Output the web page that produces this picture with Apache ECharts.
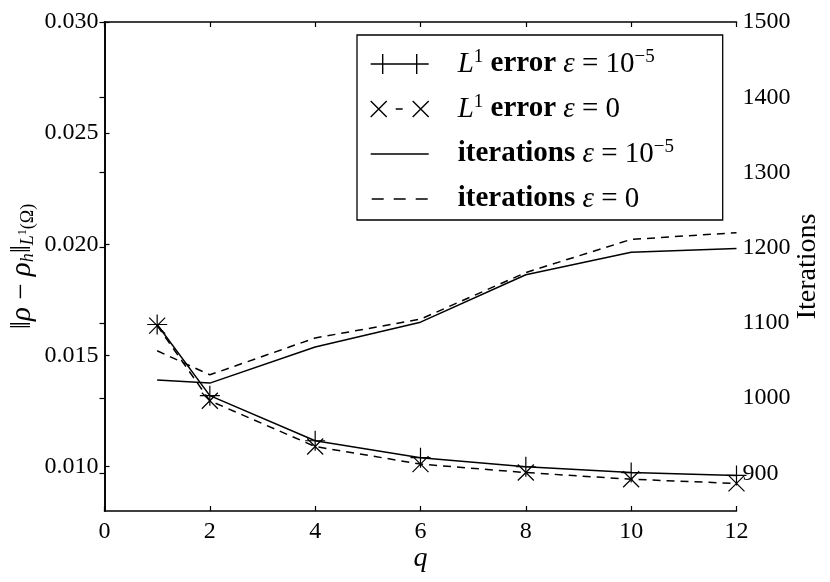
<!DOCTYPE html>
<html>
<head>
<meta charset="utf-8">
<title>L1 error and iterations vs q</title>
<script src="https://cdn.jsdelivr.net/npm/echarts@6/dist/echarts.min.js"></script>
<style>
  html, body { margin: 0; padding: 0; background: #fff; }
  #chart { width: 830px; height: 582px; }
</style>
</head>
<body>
<div id="chart"></div>
<script>
// values
const qValues = [1, 2, 4, 6, 8, 10, 12];
const errEps5 = [0.01639, 0.01319, 0.01116, 0.01040, 0.00999, 0.00973, 0.00960];
const errEps0 = [0.01634, 0.01296, 0.01090, 0.01011, 0.00973, 0.00943, 0.00924];
const itersEps5 = [1024, 1020, 1068, 1101, 1164, 1194, 1199];
const itersEps0 = [1063, 1031, 1080, 1105, 1167, 1211, 1220];

const errTicks = [0.010, 0.015, 0.020, 0.025, 0.030];
const iterTicks = [900, 1000, 1100, 1200, 1300, 1400, 1500];
const seriesNames = ['errEps5', 'errEps0', 'itersEps5', 'itersEps0'];

const serif = 'Liberation Serif';

// legend handles (line + markers), extra moveTo points keep the box 82x22
const plusIcon = 'path://M0,0M82,22M0,11H58M12,1V21M46,1V21';
const crossIcon = 'path://M0,0M82,22M0,3L16,19M0,19L16,3M42,3L58,19M42,19L58,3M25,11H32';
const solidIcon = 'path://M0,0M82,22M0,11H58';
const dashIcon = 'path://M0,0M82,22M1,11H13M23,11H35M45,11H57';

const legendLabels = {
  errEps5: '{it|L}{sup|1} {b|error} {it|ε} = 10{sup|−5}',
  errEps0: '{it|L}{sup|1} {b|error} {it|ε} = 0',
  itersEps5: '{b|iterations} {it|ε} = 10{sup|−5}',
  itersEps0: '{b|iterations} {it|ε} = 0'
};

const pairs = (ys) => qValues.map((q, i) => [q, ys[i]]);

const chart = echarts.init(document.getElementById('chart'));

const axisLine = { show: true, lineStyle: { color: '#000', width: 1.6 } };
const tickStyle = { show: true, inside: true, length: 5, lineStyle: { color: '#000', width: 1.2 } };
const labelStyle = { color: '#000', fontFamily: serif, fontSize: 24 };

chart.setOption({
  animation: false,
  backgroundColor: '#fff',
  grid: { left: 104.5, right: 93.5, top: 22, bottom: 71, containLabel: false, outerBoundsMode: 'none' },
  xAxis: [
    {
      type: 'value', position: 'bottom', min: 0, max: 12, interval: 2,
      axisLine: axisLine,
      axisTick: tickStyle,
      axisLabel: Object.assign({ margin: 9 }, labelStyle),
      splitLine: { show: false },
      name: 'q', nameLocation: 'middle', nameGap: 34, nameMoveOverlap: false,
      nameTextStyle: { color: '#000', fontFamily: serif, fontStyle: 'italic', fontSize: 28 }
    },
    {
      type: 'value', position: 'top', min: 0, max: 12, interval: 2,
      axisLine: axisLine,
      axisTick: tickStyle,
      axisLabel: { show: false },
      splitLine: { show: false }
    }
  ],
  yAxis: [
    {
      type: 'value', position: 'left', min: 0.008, max: 0.030,
      axisLine: axisLine,
      axisTick: Object.assign({ customValues: errTicks }, tickStyle),
      axisLabel: Object.assign({ margin: 6, customValues: errTicks, formatter: (v) => v.toFixed(3) }, labelStyle),
      splitLine: { show: false },
      name: '‖{it|ρ} − {it|ρ}{subi|h}‖{subi|L}{ss|1}{sub|(Ω)}',
      nameLocation: 'middle', nameRotate: 90, nameGap: 67, nameMoveOverlap: false,
      nameTextStyle: {
        color: '#000', fontFamily: serif, fontSize: 29, lineHeight: 30,
        rich: {
          it: { fontFamily: serif, fontStyle: 'italic', fontSize: 29, lineHeight: 30 },
          sub: { fontFamily: serif, fontSize: 18, verticalAlign: 'bottom', lineHeight: 18 },
          subi: { fontFamily: serif, fontStyle: 'italic', fontSize: 18, verticalAlign: 'bottom', lineHeight: 18 },
          ss: { fontFamily: serif, fontSize: 12, verticalAlign: 'middle', lineHeight: 12 }
        }
      }
    },
    {
      type: 'value', position: 'right', min: 850, max: 1500,
      axisLine: axisLine,
      axisTick: Object.assign({ customValues: iterTicks }, tickStyle),
      axisLabel: Object.assign({ margin: 6, customValues: iterTicks, formatter: (v) => String(v) }, labelStyle),
      splitLine: { show: false },
      name: 'Iterations',
      nameLocation: 'middle', nameRotate: 90, nameGap: 57, nameMoveOverlap: false,
      nameTextStyle: { color: '#000', fontFamily: serif, fontSize: 28 }
    }
  ],
  legend: {
    orient: 'vertical', left: 357, top: 35,
    itemWidth: 82, itemHeight: 22, itemGap: 13,
    padding: [13, 15, 5, 13],
    borderColor: '#000', borderWidth: 1.3, backgroundColor: '#fff',
    selectedMode: false,
    itemStyle: { color: 'rgba(0,0,0,0)', borderColor: '#000', borderWidth: 1.4 },
    formatter: (name) => legendLabels[name],
    textStyle: {
      color: '#000', fontFamily: serif, fontSize: 29, lineHeight: 32, width: 250,
      rich: {
        it: { fontFamily: serif, fontStyle: 'italic', fontSize: 29, lineHeight: 32 },
        b: { fontFamily: serif, fontWeight: 'bold', fontSize: 29, lineHeight: 32 },
        sup: { fontFamily: serif, fontSize: 19, verticalAlign: 'top', lineHeight: 19 }
      }
    },
    data: [
      { name: seriesNames[0], icon: plusIcon },
      { name: seriesNames[1], icon: crossIcon },
      { name: seriesNames[2], icon: solidIcon },
      { name: seriesNames[3], icon: dashIcon }
    ]
  },
  series: [
    {
      name: seriesNames[0], type: 'line', xAxisIndex: 0, yAxisIndex: 0,
      data: pairs(errEps5),
      symbol: 'path://M0,10H20M10,0V20', symbolSize: 20,
      itemStyle: { color: '#000', borderColor: '#000', borderWidth: 1.2 },
      lineStyle: { color: '#000', width: 1.5 }
    },
    {
      name: seriesNames[1], type: 'line', xAxisIndex: 0, yAxisIndex: 0,
      data: pairs(errEps0),
      symbol: 'path://M0,0L20,20M20,0L0,20', symbolSize: 16,
      itemStyle: { color: '#000', borderColor: '#000', borderWidth: 1.2 },
      lineStyle: { color: '#000', width: 1.5, type: [8, 6] }
    },
    {
      name: seriesNames[2], type: 'line', xAxisIndex: 0, yAxisIndex: 1,
      data: pairs(itersEps5),
      symbol: 'none',
      itemStyle: { color: '#000' },
      lineStyle: { color: '#000', width: 1.5 }
    },
    {
      name: seriesNames[3], type: 'line', xAxisIndex: 0, yAxisIndex: 1,
      data: pairs(itersEps0),
      symbol: 'none',
      itemStyle: { color: '#000' },
      lineStyle: { color: '#000', width: 1.5, type: [8, 6] }
    }
  ]
});
</script>
</body>
</html>
